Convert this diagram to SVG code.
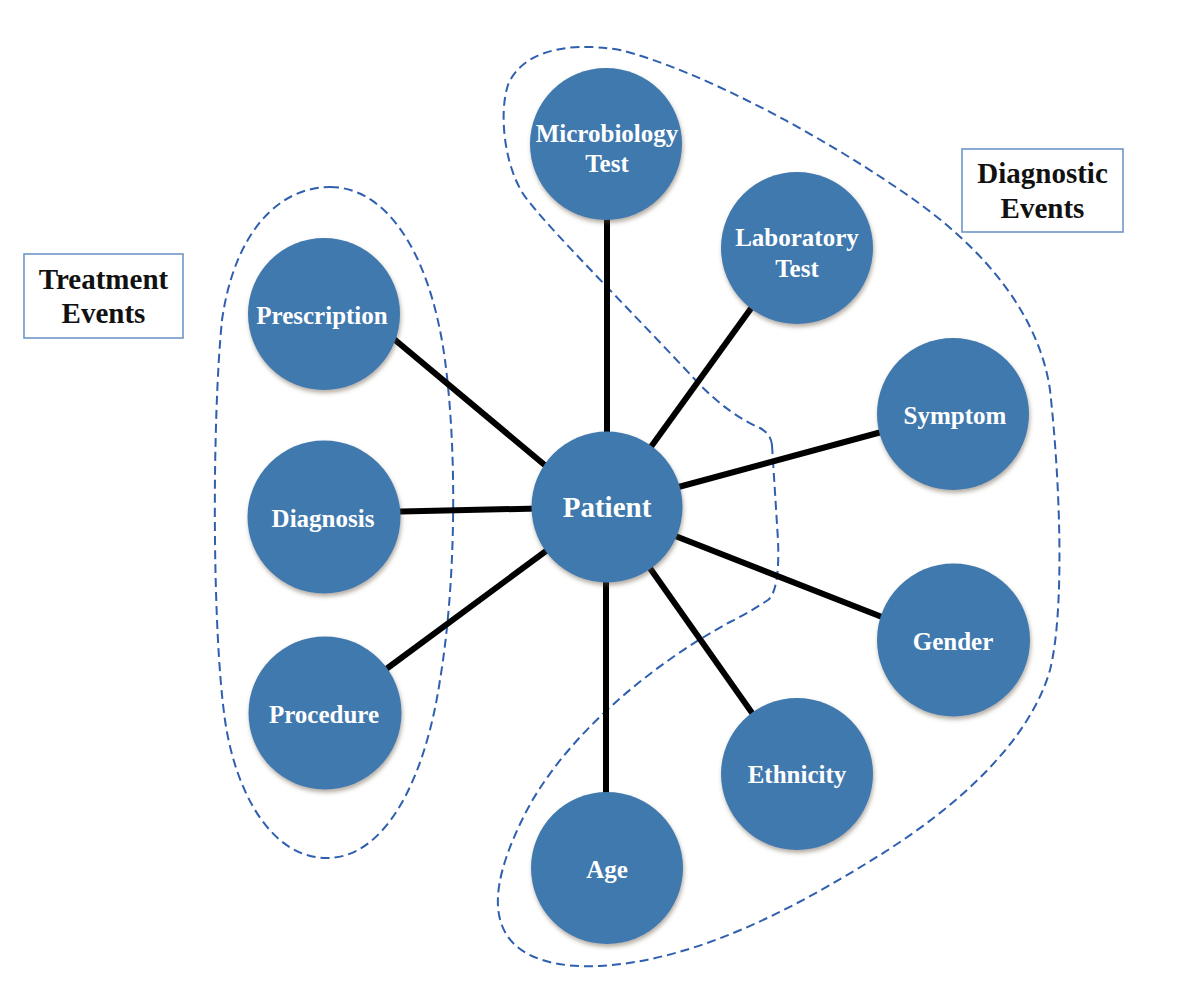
<svg xmlns="http://www.w3.org/2000/svg" width="1188" height="999" viewBox="0 0 1188 999">
<defs>
<filter id="sh" x="-20%" y="-20%" width="140%" height="140%">
<feDropShadow dx="1" dy="3" stdDeviation="2" flood-color="#5a4a30" flood-opacity="0.45"/>
</filter>
<style>
.node circle{fill:#4179ae;filter:url(#sh);}
.node text{font-family:"Liberation Serif","Times New Roman",serif;font-weight:bold;fill:#ffffff;text-anchor:middle;font-size:25px;}
.conn line{stroke:#000000;stroke-width:6;stroke-linecap:butt;}
.group{fill:none;stroke:#2f5fae;stroke-width:2;stroke-dasharray:9 5;}
.box rect{fill:#ffffff;stroke:#6f96c8;stroke-width:1.6;}
.box text{font-family:"Liberation Serif","Times New Roman",serif;font-weight:bold;fill:#111111;text-anchor:middle;font-size:29px;}
</style>
</defs>
<rect width="1188" height="999" fill="#ffffff"/>

<g id="groups">
<path class="group" d="M330,187 C385,187 430,250 445,360 C458,460 455,590 440,680 C425,780 385,858 327,858 C270,858 235,790 225,720 C212,630 212,420 222,320 C235,230 280,187 330,187 Z"/>
<path class="group" d="M772,445 L778,540 Q780,590 768,600 Q750,612 730,622 C650,665 560,740 522,820 C500,865 490,905 505,932 C520,960 560,968 600,966 C700,960 800,905 880,855 C960,805 1030,740 1050,670 C1065,610 1060,480 1050,390 C1040,320 990,250 900,190 C820,135 700,70 620,50 C560,40 520,55 508,85 C498,115 505,175 530,203 C555,235 640,320 700,385 Q730,415 760,428 Q771,434 772,445 Z"/>
</g>

<g id="connectors" class="conn">
<line x1="607" y1="200" x2="607" y2="470"/>
<line x1="640" y1="462" x2="765" y2="289"/>
<line x1="660" y1="492" x2="900" y2="427"/>
<line x1="660" y1="530" x2="905" y2="626"/>
<line x1="640" y1="554" x2="762" y2="727"/>
<line x1="606" y1="560" x2="606" y2="810"/>
<line x1="370" y1="319" x2="565" y2="482"/>
<line x1="380" y1="512" x2="560" y2="508"/>
<line x1="370" y1="681" x2="565" y2="537"/>
</g>

<g id="node-patient" class="node"><circle cx="607" cy="507" r="75.5"/><text x="607" y="517" style="font-size:29px">Patient</text></g>
<g id="node-microbiology" class="node"><circle cx="606" cy="144" r="76"/><text x="607" y="142">Microbiology</text><text x="607" y="172">Test</text></g>
<g id="node-laboratory" class="node"><circle cx="797" cy="248" r="76"/><text x="797" y="246">Laboratory</text><text x="797" y="277">Test</text></g>
<g id="node-symptom" class="node"><circle cx="953" cy="414" r="76"/><text x="955" y="424">Symptom</text></g>
<g id="node-gender" class="node"><circle cx="953.5" cy="640" r="76.5"/><text x="953" y="650">Gender</text></g>
<g id="node-ethnicity" class="node"><circle cx="797" cy="774" r="76"/><text x="797" y="783">Ethnicity</text></g>
<g id="node-age" class="node"><circle cx="607" cy="868" r="76"/><text x="607" y="878">Age</text></g>
<g id="node-prescription" class="node"><circle cx="324" cy="314" r="76"/><text x="322" y="324">Prescription</text></g>
<g id="node-diagnosis" class="node"><circle cx="324" cy="517" r="76.5"/><text x="323" y="527">Diagnosis</text></g>
<g id="node-procedure" class="node"><circle cx="325" cy="713" r="76.5"/><text x="324" y="723">Procedure</text></g>

<g id="box-treatment" class="box"><rect x="24" y="254" width="159" height="84"/><text x="103.5" y="289">Treatment</text><text x="103.5" y="323">Events</text></g>
<g id="box-diagnostic" class="box"><rect x="962" y="149" width="161" height="83"/><text x="1042.5" y="183">Diagnostic</text><text x="1042.5" y="218">Events</text></g>
</svg>
